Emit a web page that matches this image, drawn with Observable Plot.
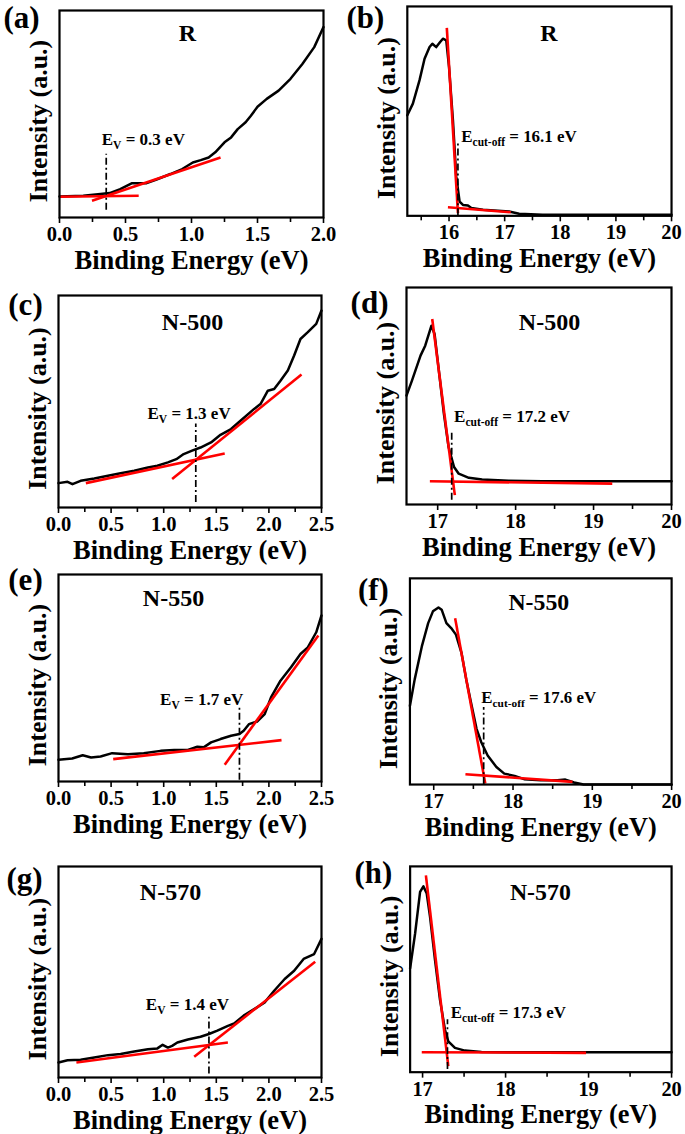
<!DOCTYPE html>
<html>
<head>
<meta charset="utf-8">
<script src="https://cdn.jsdelivr.net/npm/d3@7"></script>
<script src="https://cdn.jsdelivr.net/npm/@observablehq/plot@0.6"></script>
<style>
  html, body { margin: 0; padding: 0; background: #fff; }
  #page { position: relative; width: 685px; height: 1134px; overflow: hidden; background: #fff; }
  .pnl { position: absolute; }
  .pnl svg text { white-space: pre; }
</style>
</head>
<body>
<div id="page"></div>
<script>
// ---------- data ----------
const xTitle = "Binding Energy (eV)";
const yTitle = "Intensity (a.u.)";
const letters = ["(a)", "(b)", "(c)", "(d)", "(e)", "(f)", "(g)", "(h)"];
const samples = ["R", "R", "N-500", "N-500", "N-550", "N-550", "N-570", "N-570"];
const labels = ["E_{V} = 0.3 eV", "E_{cut-off} = 16.1 eV", "E_{V} = 1.3 eV", "E_{cut-off} = 17.2 eV",
                "E_{V} = 1.7 eV", "E_{cut-off} = 17.6 eV", "E_{V} = 1.4 eV", "E_{cut-off} = 17.3 eV"];

// panel (a) R, valence band
const aE = [0, 0.18, 0.31, 0.38, 0.46, 0.55, 0.66, 0.74, 0.84, 0.93, 1.01, 1.07, 1.13, 1.18, 1.25, 1.30, 1.35, 1.41, 1.45, 1.50, 1.57, 1.66, 1.75, 1.84, 1.93, 2.0];
const aI = [10.2, 10.5, 11.3, 11.8, 13.7, 16.6, 16.6, 18.5, 21, 23.4, 26.6, 27.7, 29, 31.5, 36.3, 38.7, 42.7, 46, 49.2, 53.5, 57.3, 61.3, 67, 74.2, 82.3, 92];
const aFitE = [0, 0.6, 0.246, 1.22];
const aFitI = [10, 10.5, 8.1, 29];
const aMark = [0.354, 3.5, 30.6];

// panel (b) R, cut-off
const bE = [15.25, 15.35, 15.47, 15.56, 15.65, 15.70, 15.77, 15.84, 15.89, 15.95, 16.0, 16.07, 16.13, 16.19, 16.25, 16.34, 16.40, 16.61, 17.08, 17.26, 17.68, 20];
const bI = [48, 53.6, 64.8, 75, 80.6, 82.2, 80.6, 83, 84.6, 83.8, 71, 45.7, 18.7, 6.8, 5.2, 4.9, 3.7, 2.9, 2.1, 1, 0.5, 0.5];
const bFitE = [15.96, 16.16, 15.98, 17.11];
const bFitI = [89.8, 1.3, 4.1, 1.7];
const bMark = [16.16, 0, 35.4];

// panel (c) N-500, valence band
const cE = [0, 0.086, 0.133, 0.21, 0.34, 0.47, 0.59, 0.72, 0.85, 0.94, 1.04, 1.12, 1.19, 1.27, 1.35, 1.45, 1.54, 1.64, 1.73, 1.86, 1.92, 1.99, 2.05, 2.11, 2.18, 2.24, 2.30, 2.37, 2.45, 2.5];
const cI = [11.5, 12.1, 11, 12.6, 13.7, 15, 16.2, 17.3, 18.9, 19.7, 21.3, 22.8, 25.2, 26.8, 28.3, 30.7, 34.3, 37, 40.9, 46.5, 48.8, 55.1, 55.9, 59.8, 64.6, 71.7, 79.5, 82.7, 86.6, 92.9];
const cFitE = [0.26, 1.58, 1.08, 2.31];
const cFitI = [11.5, 25.5, 13.4, 62.7];
const cMark = [1.305, 2.4, 39.4];

// panel (d) N-500, cut-off
const dE = [16.6, 16.67, 16.78, 16.84, 16.92, 16.96, 17.02, 17.08, 17.14, 17.21, 17.27, 17.40, 17.57, 17.91, 18.34, 20];
const dI = [50.2, 57.1, 68.6, 73.2, 82.4, 78.6, 60.2, 41.8, 26.5, 17.3, 14.2, 12.3, 11.5, 11, 10.7, 10.7];
const dFitE = [16.93, 17.22, 16.9, 19.24];
const dFitI = [85.5, 4.3, 10.7, 9.6];
const dMark = [17.18, 2, 34.1];

// panel (e) N-550, valence band
const eE = [0, 0.13, 0.23, 0.31, 0.40, 0.51, 0.66, 0.81, 0.97, 1.10, 1.23, 1.32, 1.38, 1.45, 1.54, 1.64, 1.72, 1.76, 1.81, 1.89, 1.96, 2.02, 2.11, 2.21, 2.30, 2.37, 2.45, 2.5];
const eI = [10.5, 11.1, 12.7, 11.6, 12.1, 13.7, 13.2, 13.7, 14.8, 15.2, 15.2, 16.8, 16.5, 18.9, 20.5, 22.1, 22.9, 24.5, 27.7, 29, 32.6, 40.6, 48.7, 55.2, 61.6, 64.8, 72.1, 80.2];
const eFitE = [0.52, 2.12, 1.58, 2.47];
const eFitI = [10.8, 20, 8.1, 70.5];
const eMark = [1.72, 0.6, 35.8];

// panel (f) N-550, cut-off
const fE = [16.7, 16.76, 16.85, 16.93, 16.99, 17.06, 17.1, 17.16, 17.22, 17.28, 17.35, 17.41, 17.47, 17.54, 17.60, 17.68, 17.79, 17.89, 18.02, 18.14, 18.35, 18.56, 18.66, 18.77, 18.89, 20];
const fI = [38.2, 51, 67, 78.3, 84, 85.9, 84.8, 78.3, 75.9, 72.7, 63.9, 51, 39.8, 27, 20.5, 14.1, 8.5, 5.3, 4.2, 2.6, 2.1, 2.1, 2.4, 1, 0, 0];
const fFitE = [17.27, 17.65, 17.40, 18.75];
const fFitI = [80.7, 0.5, 5, 1.3];
const fMark = [17.63, 0, 37.4];

// panel (g) N-570, valence band
const gE = [0, 0.086, 0.21, 0.34, 0.47, 0.59, 0.72, 0.85, 0.94, 0.99, 1.04, 1.08, 1.13, 1.23, 1.35, 1.43, 1.51, 1.61, 1.67, 1.76, 1.86, 1.96, 2.05, 2.15, 2.24, 2.33, 2.43, 2.5];
const gI = [7.1, 8.2, 8.4, 9.5, 10.6, 11.1, 12.3, 13.4, 13.8, 15.5, 14.2, 15, 16.6, 18, 19.3, 20.6, 22.2, 24.5, 25.6, 29.3, 32.4, 35.6, 41.1, 46.7, 50.6, 56.2, 58.5, 65.7];
const gFitE = [0.17, 1.61, 1.29, 2.44];
const gFitI = [7.1, 16.6, 9.8, 54.9];
const gMark = [1.43, 1.6, 28.5];

// panel (h) N-570, cut-off
const hE = [16.85, 16.91, 16.97, 17.01, 17.05, 17.09, 17.15, 17.21, 17.27, 17.31, 17.39, 17.51, 17.71, 18.03, 20];
const hI = [50.5, 67.4, 87.6, 90.3, 86.8, 75.5, 54.5, 35.2, 20.6, 15, 11.8, 10.5, 9.8, 9.7, 9.7];
const hFitE = [17.04, 17.31, 16.99, 18.97];
const hFitI = [95.6, 2.9, 9.7, 9.4];
const hMark = [17.30, 1.3, 25.5];

// label anchor positions (energy, intensity) for the E labels
const labelE = [0.32, 16.22, 0.846, 17.21, 0.966, 17.6, 0.83, 17.34];
const labelI = [37.9, 38, 44.4, 40.6, 39.8, 42.2, 34.5, 29];

// axis domains and ticks
const vbDomainA = [0, 2.0];
const vbDomain = [0, 2.5];
const cutDomains = [[15.25, 20], [16.6, 20], [16.7, 20], [16.85, 20]];
const vbMajorA = [0, 0.5, 1.0, 1.5, 2.0];
const vbMinorA = [0.25, 0.75, 1.25, 1.75];
const vbMajor = [0, 0.5, 1.0, 1.5, 2.0, 2.5];
const vbMinor = [0.25, 0.75, 1.25, 1.75, 2.25];
const cutMajorB = [16, 17, 18, 19, 20];
const cutMinorB = [15.5, 16.5, 17.5, 18.5, 19.5];
const cutMajor = [17, 18, 19, 20];
const cutMinor = [17.5, 18.5, 19.5];

// ---------- layout (pixels) ----------
const FONT = "'Liberation Serif','Times New Roman',Times,serif";
const layout = [
  {frame: [59, 323, 10, 217], letter: [-38, 8], name: [128, 23]},
  {frame: [407, 672, 6, 216], letter: [-42, 12], name: [142, 27]},
  {frame: [58, 321, 295, 507], letter: [-33, 10], name: [134, 27]},
  {frame: [406, 671, 287, 504], letter: [-37, 16], name: [143, 35]},
  {frame: [58, 321, 574, 781], letter: [-33, 6], name: [115, 24]},
  {frame: [410, 674, 578, 786], letter: [-37, 12], name: [130, 24]},
  {frame: [58, 321, 866, 1077], letter: [-34, 13], name: [112, 26]},
  {frame: [410, 673, 866, 1073], letter: [-37, 7], name: [131, 26]}
];

const series = [
  {E: aE, I: aI, fitE: aFitE, fitI: aFitI, mark: aMark, domain: vbDomainA, major: vbMajorA, minor: vbMinorA, fmt: d3.format(".1f")},
  {E: bE, I: bI, fitE: bFitE, fitI: bFitI, mark: bMark, domain: cutDomains[0], major: cutMajorB, minor: cutMinorB, fmt: d3.format("d")},
  {E: cE, I: cI, fitE: cFitE, fitI: cFitI, mark: cMark, domain: vbDomain, major: vbMajor, minor: vbMinor, fmt: d3.format(".1f")},
  {E: dE, I: dI, fitE: dFitE, fitI: dFitI, mark: dMark, domain: cutDomains[1], major: cutMajor, minor: cutMinor, fmt: d3.format("d")},
  {E: eE, I: eI, fitE: eFitE, fitI: eFitI, mark: eMark, domain: vbDomain, major: vbMajor, minor: vbMinor, fmt: d3.format(".1f")},
  {E: fE, I: fI, fitE: fFitE, fitI: fFitI, mark: fMark, domain: cutDomains[2], major: cutMajor, minor: cutMinor, fmt: d3.format("d")},
  {E: gE, I: gI, fitE: gFitE, fitI: gFitI, mark: gMark, domain: vbDomain, major: vbMajor, minor: vbMinor, fmt: d3.format(".1f")},
  {E: hE, I: hI, fitE: hFitE, fitI: hFitI, mark: hMark, domain: cutDomains[3], major: cutMajor, minor: cutMinor, fmt: d3.format("d")}
];

const ML = 64, MR = 14, MT = 16, MB = 66;
const NS = "http://www.w3.org/2000/svg";

function subscriptify(svg) {
  svg.querySelectorAll("text").forEach(t => {
    const s = t.textContent;
    const m = s.match(/^(.*?)_\{(.*?)\}(.*)$/);
    if (!m) return;
    while (t.firstChild) t.removeChild(t.firstChild);
    const a = document.createElementNS(NS, "tspan"); a.textContent = m[1];
    const b = document.createElementNS(NS, "tspan"); b.textContent = m[2];
    b.setAttribute("font-size", "11.5"); b.setAttribute("dy", "4");
    const c = document.createElementNS(NS, "tspan"); c.textContent = m[3];
    c.setAttribute("dy", "-4");
    t.append(a, b, c);
  });
}

const page = document.getElementById("page");
series.forEach((s, k) => {
  const L = layout[k];
  const [fl, fr, ft, fb] = L.frame;
  const curve = s.E.map((e, i) => ({e, v: s.I[i]}));
  const segs = [0, 1].map(j => ({x1: s.fitE[2 * j], y1: s.fitI[2 * j], x2: s.fitE[2 * j + 1], y2: s.fitI[2 * j + 1]}));
  const rule = [{x: s.mark[0], y1: s.mark[1], y2: s.mark[2]}];
  const lab = [{x: labelE[k], y: labelI[k], t: labels[k]}];
  const chart = Plot.plot({
    width: fr - fl + ML + MR,
    height: fb - ft + MT + MB,
    marginLeft: ML, marginRight: MR, marginTop: MT, marginBottom: MB,
    x: {domain: s.domain},
    y: {domain: [0, 100], axis: null},
    style: {fontFamily: FONT, fontWeight: "bold", background: "none", overflow: "visible", color: "#000"},
    marks: [
      Plot.axisX({ticks: s.minor, tickSize: 5, text: null, strokeWidth: 1.6, label: null}),
      Plot.axisX({ticks: s.major, tickSize: 6, tickPadding: 3, tickFormat: s.fmt, fontSize: 20.5, strokeWidth: 1.6, label: null}),
      Plot.line(curve, {x: "e", y: "v", stroke: "#000", strokeWidth: 2.5}),
      Plot.link(segs, {x1: "x1", y1: "y1", x2: "x2", y2: "y2", stroke: "#ff0000", strokeWidth: 2.6}),
      Plot.ruleX(rule, {x: "x", y1: "y1", y2: "y2", stroke: "#000", strokeWidth: 1.7, strokeDasharray: "7,3,2,3"}),
      Plot.frame({stroke: "#000", strokeWidth: 2.2}),
      Plot.text(lab, {x: "x", y: "y", text: "t", textAnchor: "start", lineAnchor: "middle", fontSize: 17}),
      Plot.text([samples[k]], {frameAnchor: "top-left", dx: L.name[0], dy: L.name[1], textAnchor: "middle", lineAnchor: "middle", fontSize: 24}),
      Plot.text([letters[k]], {frameAnchor: "top-left", dx: L.letter[0], dy: L.letter[1], textAnchor: "middle", lineAnchor: "middle", fontSize: 31}),
      Plot.text([xTitle], {frameAnchor: "bottom", dy: 43, textAnchor: "middle", lineAnchor: "middle", fontSize: 26.5}),
      Plot.text([yTitle], {frameAnchor: "left", dx: -21, dy: 7, rotate: -90, textAnchor: "middle", lineAnchor: "middle", fontSize: 26})
    ]
  });
  subscriptify(chart);
  const div = document.createElement("div");
  div.className = "pnl";
  div.style.left = (fl - ML) + "px";
  div.style.top = (ft - MT) + "px";
  div.appendChild(chart);
  page.appendChild(div);
});
</script>
</body>
</html>
